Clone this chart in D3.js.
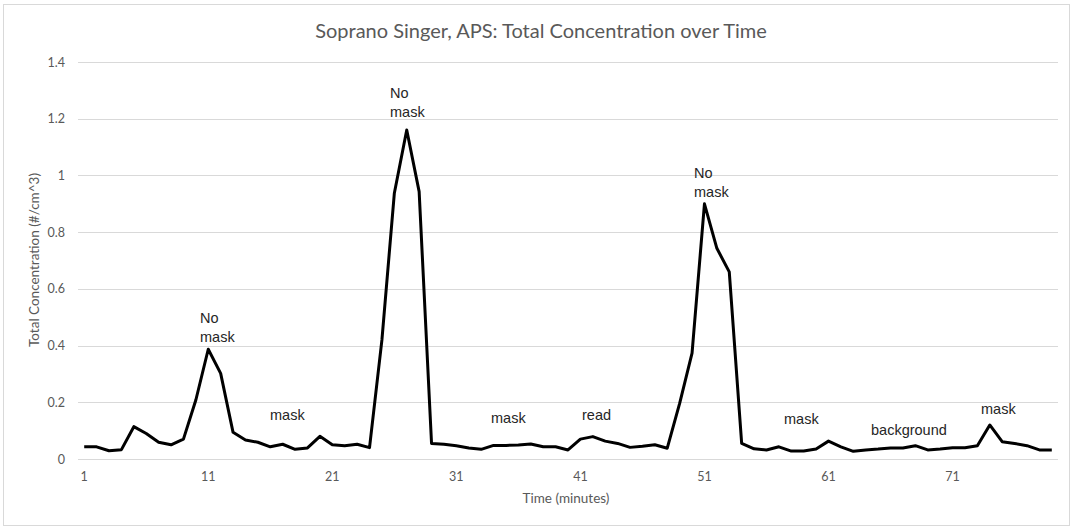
<!DOCTYPE html>
<html>
<head>
<meta charset="utf-8">
<script src="https://cdn.jsdelivr.net/npm/d3@7"></script>
<style>
  body { margin: 0; background: #fff; }
  .tick text { fill: #595959; font-family: Lato, "Open Sans", sans-serif; font-size: 12.5px; }
  .note { fill: #262626; font-family: "Liberation Sans", Arial, sans-serif; font-size: 14.5px; }
</style>
</head>
<body>
<div id="chart-area"></div>
<script>
const W = 1073;
const H = 529;
const MARGIN = { LEFT: 78, RIGHT: 15, TOP: 62, BOTTOM: 70 };

// minutes 1..79
const minutes = d3.range(1, 80);
const concentration = [
  0.043, 0.043, 0.029, 0.033, 0.114, 0.09, 0.059, 0.05, 0.07, 0.208,
  0.387, 0.302, 0.094, 0.067, 0.059, 0.043, 0.052, 0.034, 0.039, 0.08,
  0.05, 0.047, 0.052, 0.04, 0.42, 0.937, 1.16, 0.943, 0.055, 0.052,
  0.047, 0.039, 0.034, 0.048, 0.048, 0.049, 0.053, 0.043, 0.043, 0.032,
  0.07, 0.079, 0.063, 0.055, 0.041, 0.045, 0.05, 0.038, 0.196, 0.373,
  0.9, 0.743, 0.66, 0.055, 0.036, 0.032, 0.043, 0.028, 0.028, 0.035,
  0.063, 0.043, 0.027, 0.032, 0.035, 0.039, 0.039, 0.047, 0.032, 0.035,
  0.04, 0.04, 0.047, 0.12, 0.061, 0.055, 0.047, 0.032, 0.032
];
const yTicks = [0, 0.2, 0.4, 0.6, 0.8, 1, 1.2, 1.4];
const xTickLabels = [1, 11, 21, 31, 41, 51, 61, 71];

// text notes placed over the line
const notes = [
  { x: 200, y: 323, lines: ["No", "mask"] },
  { x: 390, y: 98, lines: ["No", "mask"] },
  { x: 694, y: 178, lines: ["No", "mask"] },
  { x: 270, y: 420, lines: ["mask"] },
  { x: 491, y: 423, lines: ["mask"] },
  { x: 582, y: 420, lines: ["read"] },
  { x: 784, y: 424, lines: ["mask"] },
  { x: 871, y: 435, lines: ["background"] },
  { x: 981, y: 414, lines: ["mask"] }
];

const svg = d3.select("#chart-area").append("svg")
  .attr("width", W)
  .attr("height", H);

// chart frame
svg.append("rect")
  .attr("x", 3.5).attr("y", 4.5)
  .attr("width", W - 7).attr("height", H - 8)
  .attr("fill", "#fff")
  .attr("stroke", "#d9d9d9");

const x = d3.scaleBand()
  .domain(minutes)
  .range([MARGIN.LEFT, W - MARGIN.RIGHT]);
const y = d3.scaleLinear()
  .domain([0, 1.4])
  .range([H - MARGIN.BOTTOM, MARGIN.TOP]);

// gridlines
svg.append("g")
  .selectAll("line")
  .data(yTicks)
  .join("line")
  .attr("x1", MARGIN.LEFT)
  .attr("x2", W - MARGIN.RIGHT)
  .attr("y1", (d) => Math.round(y(d)) + 0.5)
  .attr("y2", (d) => Math.round(y(d)) + 0.5)
  .attr("stroke", "#d9d9d9")
  .attr("stroke-width", 1);

// y axis labels
const yAxis = svg.append("g")
  .attr("transform", `translate(${MARGIN.LEFT - 10}, 0)`)
  .call(d3.axisLeft(y).tickValues(yTicks).tickSize(0).tickFormat((d) => d3.format("")(d)));
yAxis.select(".domain").remove();

// x axis labels
const xAxis = svg.append("g")
  .attr("transform", `translate(0, ${H - MARGIN.BOTTOM})`)
  .call(d3.axisBottom(x).tickValues(xTickLabels).tickSize(0).tickPadding(13));
xAxis.select(".domain").remove();

// axis titles
svg.append("text")
  .attr("x", 566)
  .attr("y", 503)
  .attr("text-anchor", "middle")
  .attr("fill", "#595959")
  .attr("font-family", "Lato, 'Open Sans', sans-serif")
  .attr("font-size", "13.5px")
  .text("Time (minutes)");

svg.append("text")
  .attr("transform", "translate(39, 260) rotate(-90)")
  .attr("text-anchor", "middle")
  .attr("fill", "#595959")
  .attr("font-family", "Lato, 'Open Sans', sans-serif")
  .attr("font-size", "13.5px")
  .text("Total Concentration (#/cm^3)");

// title
svg.append("text")
  .attr("x", 541)
  .attr("y", 38)
  .attr("text-anchor", "middle")
  .attr("fill", "#595959")
  .attr("font-family", "Lato, 'Open Sans', sans-serif")
  .attr("font-size", "20px")
  .text("Soprano Singer, APS: Total Concentration over Time");

// line
const line = d3.line()
  .x((d, i) => x(minutes[i]) + x.bandwidth() / 2)
  .y((d) => y(d));

svg.append("path")
  .attr("d", line(concentration))
  .attr("fill", "none")
  .attr("stroke", "#000")
  .attr("stroke-width", 3)
  .attr("stroke-linejoin", "round");

// annotations
notes.forEach((n) => {
  const t = svg.append("text").attr("class", "note");
  n.lines.forEach((s, i) => {
    t.append("tspan").attr("x", n.x).attr("y", n.y + i * 19).text(s);
  });
});
</script>
</body>
</html>
